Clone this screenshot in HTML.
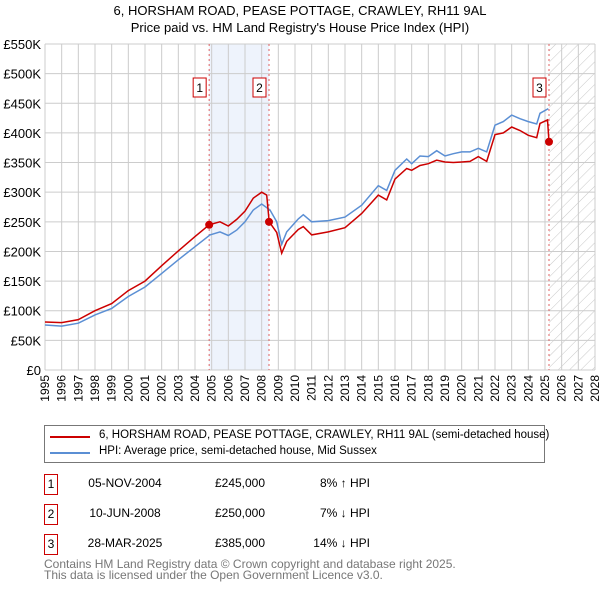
<!DOCTYPE html>
<html><head><meta charset="utf-8"><style>
body{margin:0;background:#fff;font-family:"Liberation Sans",sans-serif;}
#wrap{position:relative;width:600px;height:590px;overflow:hidden;}
.t{position:absolute;font-size:13px;color:#000;white-space:nowrap;}
</style></head><body>
<div id="wrap">
<svg id="chart" width="600" height="410" style="position:absolute;left:0;top:0">
<defs><pattern id="hatch" width="8" height="8" patternUnits="userSpaceOnUse" patternTransform="rotate(45)"><line x1="0" y1="0" x2="0" y2="8" stroke="#c8c8c8" stroke-width="1"/></pattern></defs>
<text x="300" y="15" text-anchor="middle" font-size="13">6, HORSHAM ROAD, PEASE POTTAGE, CRAWLEY, RH11 9AL</text>
<text x="300" y="32" text-anchor="middle" font-size="13">Price paid vs. HM Land Registry's House Price Index (HPI)</text>
<g id="g"></g>
</svg>
<div style="position:absolute;left:44px;top:425px;width:499px;height:36px;border:1px solid #777;">
 <div style="position:absolute;left:5px;top:10px;width:40px;height:2px;background:#cc0000"></div>
 <div class="t" style="left:54px;top:3px;font-size:11.5px">6, HORSHAM ROAD, PEASE POTTAGE, CRAWLEY, RH11 9AL (semi-detached house)</div>
 <div style="position:absolute;left:5px;top:26px;width:40px;height:2px;background:#5b8fd4"></div>
 <div class="t" style="left:54px;top:19px;font-size:11.5px">HPI: Average price, semi-detached house, Mid Sussex</div>
</div>
<div id="rows"></div>
<div class="t" style="left:44px;top:559px;font-size:12px;color:#777;line-height:11px">Contains HM Land Registry data © Crown copyright and database right 2025.<br>This data is licensed under the Open Government Licence v3.0.</div>
</div>
<script>
const hpiYears=[1995,1996,1997,1998,1999,2000,2001,2002,2003,2004,2004.9,2005.5,2006,2006.5,2007,2007.5,2008,2008.5,2008.9,2009.2,2009.5,2010.2,2010.5,2011,2012,2013,2014,2015,2015.5,2016,2016.7,2017,2017.5,2018,2018.5,2019,2019.5,2020,2020.5,2021,2021.5,2022,2022.5,2023,2023.5,2024,2024.5,2024.7,2025.2];
const hpiValues=[76,74,79,93,104,124,140,163,186,208,228,233,227,236,250,270,280,270,250,212,233,255,262,250,252,258,278,311,303,337,356,348,361,360,370,361,365,368,368,374,368,413,419,430,424,419,415,433,441];
const redYears=[1995,1996,1997,1998,1999,2000,2001,2002,2003,2004,2004.85,2005.5,2006,2006.5,2007,2007.5,2008,2008.3,2008.45,2008.9,2009.2,2009.5,2010.2,2010.5,2011,2012,2013,2014,2015,2015.5,2016,2016.7,2017,2017.5,2018,2018.5,2019,2019.5,2020,2020.5,2021,2021.5,2022,2022.5,2023,2023.5,2024,2024.5,2024.7,2025.15,2025.24];
const redValues=[81,80,85,100,112,134,150,176,201,225,245,250,243,254,268,290,300,295,250,232,197,217,237,242,228,233,240,264,295,287,322,340,337,345,348,354,351,350,351,352,360,352,397,400,410,404,396,392,416,422,385];
const saleYears=[2004.85,2008.44,2025.24];
const saleValues=[245,250,385];
const saleLabels=["1","2","3"];
const yTicks=[0,50,100,150,200,250,300,350,400,450,500,550];
const yTickLabels=["£0","£50K","£100K","£150K","£200K","£250K","£300K","£350K","£400K","£450K","£500K","£550K"];
const xTicks=[];for(let y=1995;y<=2028;y++)xTicks.push(y);
const saleDates=["05-NOV-2004","10-JUN-2008","28-MAR-2025"];
const salePrices=["£245,000","£250,000","£385,000"];
const saleHpi=["8% ↑ HPI","7% ↓ HPI","14% ↓ HPI"];

const L=45,R=595,T=44,B=370;
const X=v=>L+(v-1995)*(R-L)/33;
const Y=v=>B-v*(B-T)/550;
const NS="http://www.w3.org/2000/svg";
const g=document.getElementById('g');
function mk(tag,at){const e=document.createElementNS(NS,tag);for(const k in at)e.setAttribute(k,at[k]);g.appendChild(e);return e;}
let e;
e=mk('rect',{x:X(saleYears[0]),y:T,width:X(saleYears[1])-X(saleYears[0]),height:B-T,fill:'#eef3fc'});


e=mk('rect',{x:X(saleYears[2]),y:T,width:R-X(saleYears[2]),height:B-T,fill:'url(#hatch)'});


yTicks.forEach((v,i)=>{
 e=mk('line',{x1:L,x2:R,y1:Y(v),y2:Y(v),stroke:'#cccccc'});
 
 
 e=mk('text',{x:L-4,y:Y(v)+5,'text-anchor':'end','font-size':13});
 e.textContent=yTickLabels[i];
 
 
});
xTicks.forEach(v=>{
 e=mk('line',{x1:X(v),x2:X(v),y1:T,y2:B,stroke:'#cccccc'});
 
 
 e=mk('text',{x:0,y:0,'text-anchor':'end','font-size':12,transform:`translate(${X(v)+4},${B+5}) rotate(-90)`});
 e.textContent=v;
 
 
});
saleYears.forEach((v,i)=>{
 e=mk('line',{x1:X(v),x2:X(v),y1:T,y2:B,stroke:'#e06060','stroke-dasharray':'2,3'});
 
 
});
function path(xs,ys){return xs.map((x,i)=>(i?'L':'M')+X(x).toFixed(1)+','+Y(ys[i]).toFixed(1)).join('');}
e=mk('path',{d:path(hpiYears,hpiValues),fill:'none',stroke:'#5b8fd4','stroke-width':1.5});


e=mk('path',{d:path(redYears,redValues),fill:'none',stroke:'#cc0000','stroke-width':1.5});


saleYears.forEach((v,i)=>{
 e=mk('circle',{cx:X(v),cy:Y(saleValues[i]),r:4,fill:'#cc0000'});
 
 
 e=mk('rect',{x:X(v)-16,y:78,width:13,height:19,fill:'#fff',stroke:'#cc0000'});
 
 
 e=mk('text',{x:X(v)-9.5,y:92,'text-anchor':'middle','font-size':12});
 e.textContent=saleLabels[i];
 
 
});
const rows=document.getElementById('rows');
saleLabels.forEach((s,i)=>{
 const top=474+i*30;
 const r=document.createElement('div');
 
 
 r.innerHTML=`<div style="position:absolute;left:44px;top:${top}px;width:12px;height:19px;border:1px solid #cc0000;font-size:12px;text-align:center;line-height:19px">${s}</div>
 <div class="t" style="left:70px;top:${top+2}px;width:110px;text-align:center;font-size:12px">${saleDates[i]}</div>
 <div class="t" style="left:200px;top:${top+2}px;width:80px;text-align:center;font-size:12px">${salePrices[i]}</div>
 <div class="t" style="left:270px;top:${top+2}px;width:100px;text-align:right;font-size:12px">${saleHpi[i]}</div>`;
 rows.appendChild(r);
});
</script>
</body></html>
